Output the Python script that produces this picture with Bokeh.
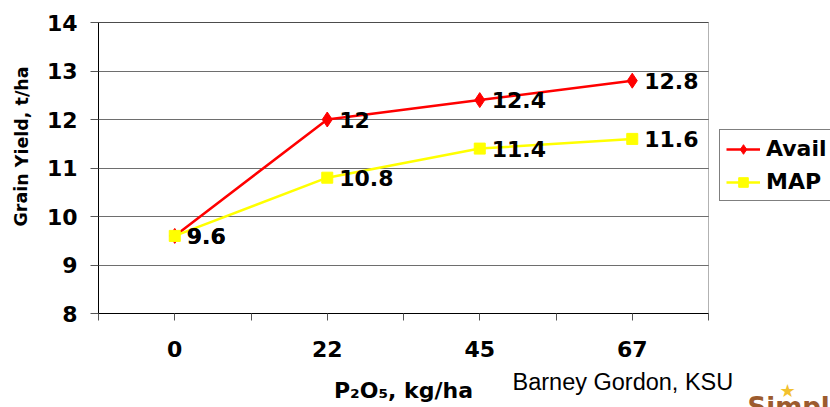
from bokeh.plotting import figure
from bokeh.models import (FixedTicker, Legend, LegendItem, Label, Range1d, ColumnDataSource,
                          LinearAxis, Grid, BoxAnnotation)
from bokeh.embed import file_html
from bokeh.resources import INLINE
from bokeh.core.properties import value

# ---- data ----
rates = ["0", "22", "45", "67"]          # P2O5, kg/ha
avail = [9.6, 12.0, 12.4, 12.8]
map_vals = [9.6, 10.8, 11.4, 11.6]
y_ticks = [8, 9, 10, 11, 12, 13, 14]

FONT = "DejaVu Sans"

# ---- layout (pixels) ----
W, H = 830, 407
PL, PR, PT, PB = 98, 708, 22, 313          # plot-area box

x = list(range(len(rates)))
x0, x1 = -0.5, len(rates) - 0.5
y0, y1 = y_ticks[0], y_ticks[-1]
kx = (PR - PL) / (x1 - x0)
ky = (PB - PT) / (y1 - y0)
xr = Range1d(x0 - PL / kx, x1 + (W - PR) / kx)
yr = Range1d(y0 - (H - PB) / ky, y1 + PT / ky)

src_a = ColumnDataSource(dict(x=x, y=avail, t=[f"{v:g}" for v in avail]))
src_m = ColumnDataSource(dict(x=x, y=map_vals, t=[f"{v:g}" for v in map_vals]))

p = figure(width=W, height=H, min_border=0, x_range=xr, y_range=yr,
           x_axis_type=None, y_axis_type=None,
           output_backend="svg", toolbar_location=None)
p.background_fill_color = "white"
p.border_fill_color = "white"
p.outline_line_color = None

# horizontal grid lines limited to the plot area
grid_kw = dict(dimension=1, ticker=FixedTicker(ticks=y_ticks), bounds=(y0, y1),
               grid_line_color="#6e6e6e", grid_line_width=1)
if "cross_bounds" in Grid.properties():
    p.add_layout(Grid(cross_bounds=(x0, x1), **grid_kw))
else:
    p.segment(x0=x0, x1=x1, y0=y_ticks[1:-1], y1=y_ticks[1:-1], line_color="#6e6e6e", line_width=1)

# plot-area border
p.add_layout(BoxAnnotation(left=x0, right=x1, bottom=y0, top=y1, fill_alpha=0,
                           line_color="black", line_width=1, level="underlay"))

# y axis
yaxis = LinearAxis(fixed_location=x0, bounds=(y0, y1), ticker=FixedTicker(ticks=y_ticks))
yaxis.axis_line_color = "black"
yaxis.major_tick_out = 8
yaxis.major_tick_in = 0
yaxis.major_tick_line_color = "#555555"
yaxis.minor_tick_line_color = None
yaxis.major_label_text_font = FONT
yaxis.major_label_text_font_style = "bold"
yaxis.major_label_text_font_size = "22px"
yaxis.major_label_text_color = "black"
yaxis.major_label_standoff = 13
p.add_layout(yaxis, "left")

# y-axis title (placed as in the reference, a little above centre)
p.add_layout(Label(x=21, y=H - 146, x_units="screen", y_units="screen", angle=1.5707963,
                   text="Grain Yield, t/ha", text_font=FONT, text_font_style="bold",
                   text_font_size="17.5px", text_color="black",
                   text_align="center", text_baseline="middle"))

# x axis
xaxis = LinearAxis(fixed_location=y0, bounds=(x0, x1),
                   ticker=FixedTicker(ticks=x, minor_ticks=[i - 0.5 for i in range(len(rates) + 1)]))
xaxis.major_label_overrides = {i: r for i, r in zip(x, rates)}
xaxis.axis_line_color = "black"
xaxis.major_tick_out = 7
xaxis.major_tick_in = 0
xaxis.minor_tick_out = 7
xaxis.minor_tick_in = 0
xaxis.major_tick_line_color = "#555555"
xaxis.minor_tick_line_color = "#555555"
xaxis.major_label_text_font = FONT
xaxis.major_label_text_font_style = "bold"
xaxis.major_label_text_font_size = "22px"
xaxis.major_label_text_color = "black"
xaxis.major_label_standoff = 20
xaxis.axis_label = "P₂O₅, kg/ha"
xaxis.axis_label_text_font = FONT
xaxis.axis_label_text_font_style = "bold"
xaxis.axis_label_text_font_size = "22px"
xaxis.axis_label_text_color = "black"
xaxis.axis_label_standoff = 18
p.add_layout(xaxis, "below")

# series
r1 = p.line("x", "y", source=src_a, line_color="#FF0000", line_width=2.5)
s1 = p.scatter("x", "y", source=src_a, marker="diamond", size=15,
               fill_color="#FF0000", line_color="#FF0000")
r2 = p.line("x", "y", source=src_m, line_color="#FFFF00", line_width=2.5)
s2 = p.scatter("x", "y", source=src_m, marker="square", size=11,
               fill_color="#FFFF00", line_color="#FFFF00")

for src in (src_a, src_m):
    p.text("x", "y", text="t", source=src, x_offset=12, y_offset=0,
           text_font=value(FONT), text_font_style="bold", text_font_size="22px",
           text_color="black", text_baseline="middle", text_align="left")

legend = Legend(items=[LegendItem(label="Avail", renderers=[r1, s1]),
                       LegendItem(label="MAP", renderers=[r2, s2])],
                location=(719, H - 201), padding=6, spacing=8, margin=0,
                glyph_width=34, glyph_height=24, label_height=24, label_standoff=6,
                label_text_font=FONT, label_text_font_style="bold", label_text_font_size="22px",
                label_text_color="black", border_line_color="black", border_line_width=1,
                background_fill_color="white", background_fill_alpha=1)
p.add_layout(legend)

# source note
p.add_layout(Label(x=512, y=H - 381, x_units="screen", y_units="screen", text="Barney Gordon, KSU",
                   text_font="Liberation Sans", text_font_size="23.5px",
                   text_color="black", text_align="left", text_baseline="alphabetic"))
# logo fragment
p.add_layout(Label(x=747, y=H - 391, x_units="screen", y_units="screen", text="Simplot",
                   text_font=FONT, text_font_style="bold", text_font_size="26px",
                   text_color="#9C5B2E", text_align="left", text_baseline="top"))
p.add_layout(Label(x=787, y=H - 379, x_units="screen", y_units="screen", text="★",
                   text_font=FONT, text_font_size="18px",
                   text_color="#F2C12E", text_align="center", text_baseline="top"))

open("out.html", "w").write(file_html(p, INLINE))
